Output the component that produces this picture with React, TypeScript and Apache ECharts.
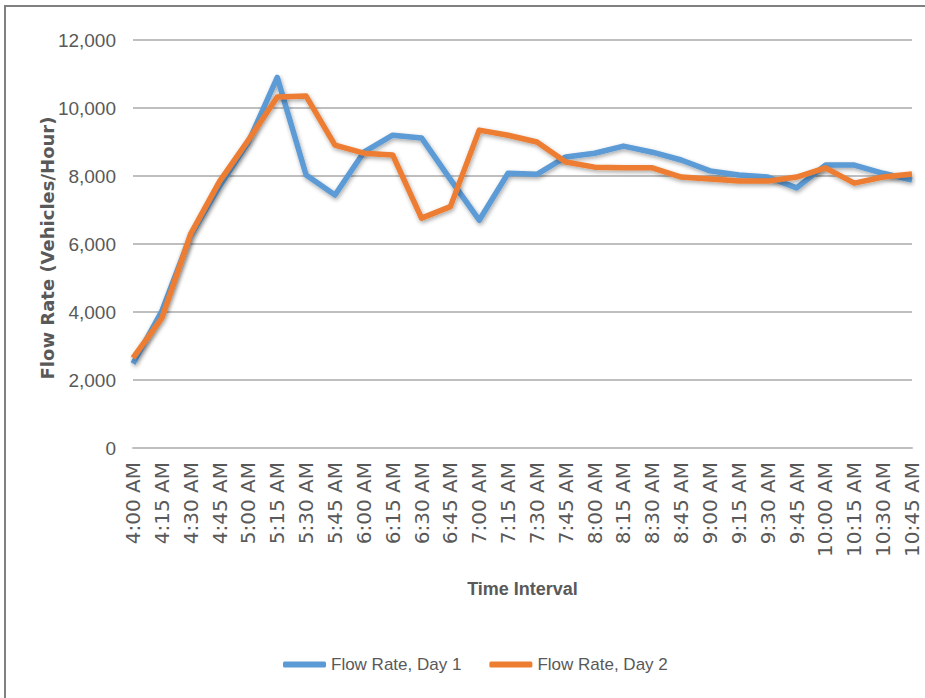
import React, { useEffect, useRef } from "react";
import * as echarts from "echarts";

const categories = [
  "4:00 AM", "4:15 AM", "4:30 AM", "4:45 AM", "5:00 AM", "5:15 AM", "5:30 AM",
  "5:45 AM", "6:00 AM", "6:15 AM", "6:30 AM", "6:45 AM", "7:00 AM", "7:15 AM",
  "7:30 AM", "7:45 AM", "8:00 AM", "8:15 AM", "8:30 AM", "8:45 AM", "9:00 AM",
  "9:15 AM", "9:30 AM", "9:45 AM", "10:00 AM", "10:15 AM", "10:30 AM", "10:45 AM",
];

const day1 = [
  2480, 4030, 6250, 7700, 9000, 10900, 8030, 7440, 8700, 9200, 9120, 7900, 6700, 8080,
  8050, 8560, 8670, 8880, 8700, 8470, 8150, 8030, 7970, 7650, 8320, 8320, 8080, 7880,
];

const day2 = [
  2650, 3820, 6300, 7840, 9060, 10320, 10350, 8910, 8670, 8620, 6760, 7100, 9350, 9200,
  9000, 8410, 8260, 8240, 8240, 7970, 7910, 7850, 7850, 7970, 8240, 7790, 7970, 8060,
];

const yTicks = { min: 0, max: 12000, interval: 2000 };
const yTitle = "Flow Rate (Vehicles/Hour)";

export default function App() {
  const ref = useRef<HTMLDivElement>(null);
  useEffect(() => {
    if (!ref.current) return;
    const chart = echarts.init(ref.current, null, { renderer: "svg" });
    const sans = "'Liberation Sans', Arial, sans-serif";
    const shadow = {
      shadowColor: "rgba(0,0,0,0.35)",
      shadowBlur: 4,
      shadowOffsetX: 1,
      shadowOffsetY: 2,
    };
    chart.setOption({
      animation: false,
      backgroundColor: "#ffffff",
      graphic: [
        {
          type: "rect",
          shape: { x: 5, y: 6, width: 1000, height: 1000 },
          style: { fill: "none", stroke: "#808080", lineWidth: 2 },
          silent: true,
        },
        {
          type: "text",
          x: 47,
          y: 248,
          rotation: Math.PI / 2,
          style: {
            text: yTitle,
            fontFamily: "'DejaVu Sans', sans-serif",
            fontWeight: "bold",
            fontSize: 18,
            fill: "#595959",
            align: "center",
            verticalAlign: "middle",
          },
          silent: true,
        },
      ],
      grid: { left: 133, right: 13, top: 40, bottom: 250, containLabel: false },
      legend: {
        left: 278,
        top: 651,
        itemWidth: 43,
        itemHeight: 6,
        itemGap: 28,
        icon: "roundRect",
        textStyle: { fontFamily: sans, fontSize: 17, color: "#595959" },
        data: ["Flow Rate, Day 1", "Flow Rate, Day 2"],
      },
      xAxis: {
        type: "category",
        data: categories,
        boundaryGap: false,
        name: "Time Interval",
        nameLocation: "middle",
        nameGap: 132,
        nameTextStyle: {
          fontFamily: sans,
          fontWeight: "bold",
          fontSize: 18,
          color: "#595959",
        },
        axisLine: { show: true, lineStyle: { color: "#bfbfbf", width: 2 } },
        axisTick: { show: false },
        axisLabel: {
          rotate: 90,
          interval: 0,
          margin: 14,
          fontFamily: "'DejaVu Sans', sans-serif",
          fontSize: 20,
          color: "#595959",
        },
      },
      yAxis: {
        type: "value",
        min: yTicks.min,
        max: yTicks.max,
        interval: yTicks.interval,
        axisLine: { show: false },
        axisTick: { show: false },
        splitLine: { lineStyle: { color: "#bfbfbf", width: 2 } },
        axisLabel: {
          margin: 17,
          fontFamily: sans,
          fontSize: 19,
          color: "#595959",
          formatter: (v: number) => v.toLocaleString("en-US"),
        },
      },
      series: [
        {
          name: "Flow Rate, Day 1",
          type: "line",
          data: day1,
          showSymbol: false,
          symbol: "none",
          color: "#5B9BD5",
          lineStyle: { color: "#5B9BD5", width: 5.5, join: "round", ...shadow },
          itemStyle: { color: "#5B9BD5" },
        },
        {
          name: "Flow Rate, Day 2",
          type: "line",
          data: day2,
          showSymbol: false,
          symbol: "none",
          color: "#ED7D31",
          lineStyle: { color: "#ED7D31", width: 5.5, join: "round", ...shadow },
          itemStyle: { color: "#ED7D31" },
        },
      ],
    });
    return () => chart.dispose();
  }, []);
  return (
    <div
      ref={ref}
      style={{ position: "fixed", left: 0, top: 0, width: 925, height: 698 }}
    />
  );
}
